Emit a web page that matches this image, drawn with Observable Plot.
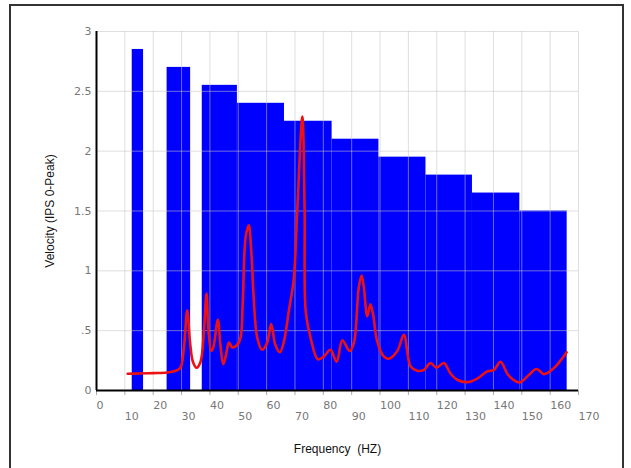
<!DOCTYPE html>
<html>
<head>
<meta charset="utf-8">
<script src="https://cdn.jsdelivr.net/npm/d3@7"></script>
<script src="https://cdn.jsdelivr.net/npm/@observablehq/plot@0.6"></script>
<style>
  html, body { margin: 0; padding: 0; background: #fff; }
  #wrap { position: relative; width: 631px; height: 468px; overflow: hidden; }
  #frame { position: absolute; left: 9px; top: 4px; width: 611px; height: 480px; border: 2px solid #333; pointer-events: none; }
</style>
</head>
<body>
<div id="wrap"><div id="frame"></div></div>
<script>
// Bars (frequency bands and limits)
const barStart  = [12.6, 24.9, 37.3, 49.7, 66.3, 83.1, 99.6, 116.2, 132.6, 149.3];
const barEnd    = [16.6, 33.2, 49.7, 66.3, 83.1, 99.6, 116.2, 132.6, 149.3, 166.0];
const barHeight = [2.85, 2.70, 2.55, 2.40, 2.25, 2.10, 1.95, 1.80, 1.65, 1.50];

// Spectrum line
const freq = [11.0, 15, 20, 24.9, 27.9, 29.6, 30.8, 32.0, 33.0, 34.0, 35.3, 36.7, 37.9, 38.8, 39.5, 40.5, 41.2, 42.8, 43.7, 44.7,
  45.7, 46.7, 47.9, 49.6, 50.8, 51.6, 52.6, 53.7, 54.6, 55.5, 56.7, 58.4, 60.2, 61.6, 63.1, 64.7, 66.1, 67.8, 69.6, 70.8,
  72.6, 73.4, 73.8, 75.5, 78.1, 80.2, 82.5, 84.7, 86.7, 89.3, 90.8, 92.5, 93.5, 94.3, 95.5, 96.6, 97.6, 99.0, 101.3, 103.1,
  106.1, 108.4, 110.8, 113.1, 115.5, 117.8, 119.9, 122.5, 124.9, 127.2, 130.8, 134.3, 137.8, 140.1, 142.5, 144.9, 147.0, 149.3, 152.5, 155.2,
  157.8, 161.3, 164.3, 165.8];
const vel = [0.14, 0.142, 0.145, 0.15, 0.165, 0.19, 0.35, 0.67, 0.40, 0.24, 0.19, 0.24, 0.50, 0.81, 0.50, 0.33, 0.36, 0.59, 0.38, 0.22,
  0.30, 0.40, 0.36, 0.38, 0.44, 0.75, 1.28, 1.38, 1.16, 0.75, 0.44, 0.34, 0.40, 0.555, 0.38, 0.32, 0.41, 0.66, 0.94, 1.50,
  2.29, 1.50, 0.66, 0.44, 0.26, 0.285, 0.34, 0.24, 0.42, 0.33, 0.40, 0.86, 0.96, 0.86, 0.62, 0.72, 0.63, 0.41, 0.285, 0.265,
  0.33, 0.465, 0.20, 0.165, 0.173, 0.23, 0.19, 0.23, 0.14, 0.09, 0.07, 0.10, 0.16, 0.17, 0.24, 0.14, 0.09, 0.067, 0.13, 0.18,
  0.137, 0.187, 0.27, 0.32];

// Ticks
const xTicks = [0, 10, 20, 30, 40, 50, 60, 70, 80, 90, 100, 110, 120, 130, 140, 150, 160, 170];
const xTicksEven = [0, 20, 40, 60, 80, 100, 120, 140, 160];
const xTicksOdd = [10, 30, 50, 70, 90, 110, 130, 150, 170];
const yTicks = [0, 0.5, 1, 1.5, 2, 2.5, 3];
const yTickLabels = ["0", ".5", "1", "1.5", "2", "2.5", "3"];

const bars = barStart.map((s, i) => ({x1: s, x2: barEnd[i], y: barHeight[i]}));
const line = freq.map((f, i) => ({x: f, y: vel[i]}));

const tickFont = "DejaVu Sans, sans-serif";
const chart = Plot.plot({
  width: 631,
  height: 468,
  marginLeft: 96,
  marginRight: 53,
  marginTop: 31,
  marginBottom: 78,
  style: {background: "transparent", fontFamily: tickFont, fontSize: "11px", color: "#777"},
  x: {domain: [0, 170]},
  y: {domain: [0, 3]},
  marks: [
    Plot.rectY(bars, {x1: "x1", x2: "x2", y: "y", fill: "#0000ff"}),
    Plot.gridX(xTicks, {stroke: "#c4c4c4", strokeOpacity: 0.55}),
    Plot.gridY(yTicks, {stroke: "#c4c4c4", strokeOpacity: 0.55}),
    Plot.line(line, {x: "x", y: "y", stroke: "#ee1111", strokeWidth: 2.6, curve: "catmull-rom"}),
    Plot.axisX(xTicks, {tickSize: 5, tickFormat: () => "", stroke: "#aaa", label: null}),
    Plot.axisX(xTicksEven, {tickSize: 0, tickPadding: 11, textAnchor: "start", fill: "#777", label: null}),
    Plot.axisX(xTicksOdd, {tickSize: 0, tickPadding: 22, textAnchor: "start", fill: "#777",
      label: "Frequency\u00a0 (HZ)", labelAnchor: "center", labelArrow: "none", labelOffset: 62}),
    Plot.axisY(yTicks, {tickSize: 0, tickPadding: 5, fill: "#777",
      tickFormat: d => yTickLabels[yTicks.indexOf(d)],
      label: "Velocity (IPS 0-Peak)", labelAnchor: "center", labelArrow: "none", labelOffset: 51}),
    Plot.ruleX([0], {stroke: "#000", strokeWidth: 2}),
    Plot.ruleY([0], {stroke: "#000", strokeWidth: 2})
  ]
});
// Style axis titles like the reference
d3.select(chart).selectAll("[aria-label='x-axis label'] text, [aria-label='y-axis label'] text")
  .attr("fill", "#111").style("font-family", "Liberation Sans, Arial, sans-serif").style("font-size", "12px");
document.getElementById("wrap").prepend(chart);
chart.style.position = "absolute";
chart.style.left = "0";
chart.style.top = "0";
</script>
</body>
</html>
